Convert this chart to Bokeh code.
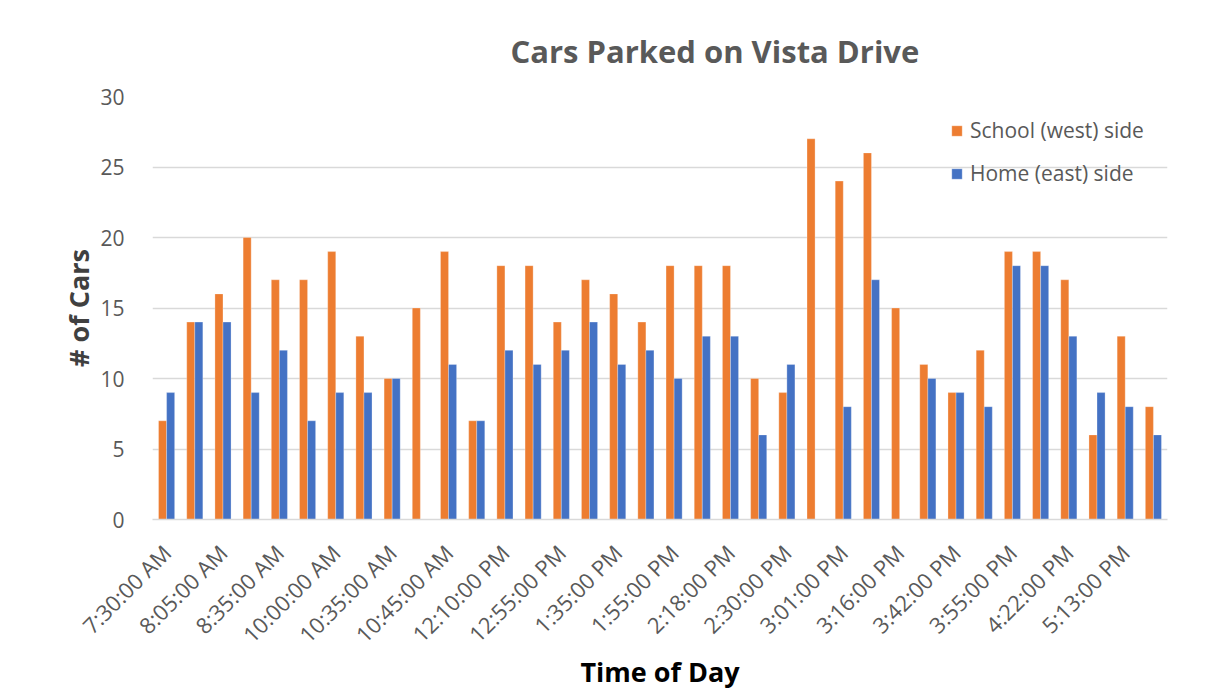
from bokeh.plotting import figure
from bokeh.models import Range1d, FixedTicker, Title, Legend, LegendItem
from bokeh.embed import file_html
from bokeh.resources import INLINE
import numpy as np

# ---- data ----
tick_labels = ["7:30:00 AM", "8:05:00 AM", "8:35:00 AM", "10:00:00 AM", "10:35:00 AM",
               "10:45:00 AM", "12:10:00 PM", "12:55:00 PM", "1:35:00 PM", "1:55:00 PM",
               "2:18:00 PM", "2:30:00 PM", "3:01:00 PM", "3:16:00 PM", "3:42:00 PM",
               "3:55:00 PM", "4:22:00 PM", "5:13:00 PM"]
school = [7, 14, 16, 20, 17, 17, 19, 13, 10, 15, 19, 7, 18, 18, 14, 17, 16, 14,
          18, 18, 18, 10, 9, 27, 24, 26, 15, 11, 9, 12, 19, 19, 17, 6, 13, 8]
home = [9, 14, 14, 9, 12, 7, 9, 9, 10, 0, 11, 7, 12, 11, 12, 14, 11, 12,
        10, 13, 13, 6, 11, 0, 8, 17, 0, 10, 9, 8, 18, 18, 13, 9, 8, 6]
series_names = ["School (west) side", "Home (east) side"]
title_text = "Cars Parked on Vista Drive"

ORANGE = "#ED7D31"
BLUE = "#4472C4"
GRID = "#D9D9D9"
TXT = "#595959"
FONT = "Open Sans"

n = len(school)
idx = np.arange(1, n + 1)
bw = 1 / 3.5

p = figure(width=1214, height=694, output_backend="svg", toolbar_location=None,
           x_range=Range1d(0.5, n + 0.5), y_range=Range1d(0, 30),
           min_border_left=152, min_border_right=47, min_border_top=96, min_border_bottom=175)
p.outline_line_color = None
p.background_fill_color = "white"
p.border_fill_color = "white"

r1 = p.vbar(x=idx - bw / 2, top=school, width=bw, fill_color=ORANGE,
            line_color="white", line_alpha=0.35, line_width=0.8)
r2 = p.vbar(x=idx + bw / 2, top=home, width=bw, fill_color=BLUE,
            line_color="white", line_alpha=0.35, line_width=0.8)

# title
t = Title(text=title_text, align="left", offset=358,
          text_font=FONT, text_font_size="31px", text_font_style="bold",
          text_color=TXT, standoff=50)
p.add_layout(t, "above")

# x axis
xa = p.xaxis[0]
xa.ticker = FixedTicker(ticks=list(range(1, n + 1, 2)))
xa.major_label_overrides = {i: lab for i, lab in zip(range(1, n + 1, 2), tick_labels)}
xa.major_label_orientation = np.pi / 4
xa.major_label_text_font = FONT
xa.major_label_text_font_size = "22px"
xa.major_label_text_color = TXT
xa.major_label_standoff = 23
xa.major_tick_line_color = None
xa.minor_tick_line_color = None
xa.axis_line_color = GRID
xa.axis_line_width = 1.5
xa.axis_label = "Time of Day"
xa.axis_label_text_font = FONT
xa.axis_label_text_font_size = "27px"
xa.axis_label_text_font_style = "bold"
xa.axis_label_text_color = "#000000"
xa.axis_label_standoff = -9

# y axis
ya = p.yaxis[0]
ya.ticker = FixedTicker(ticks=[0, 5, 10, 15, 20, 25, 30])
ya.major_label_text_font = FONT
ya.major_label_text_font_size = "21px"
ya.major_label_text_color = TXT
ya.major_label_standoff = 22
ya.major_tick_line_color = None
ya.minor_tick_line_color = None
ya.axis_line_color = None
ya.axis_label = "# of Cars"
ya.axis_label_text_font = FONT
ya.axis_label_text_font_size = "27px"
ya.axis_label_text_font_style = "bold"
ya.axis_label_text_color = "#404040"
ya.axis_label_standoff = 0

p.xgrid.grid_line_color = None
p.ygrid.grid_line_color = GRID
p.ygrid.grid_line_width = 1.5

legend = Legend(items=[LegendItem(label=series_names[0], renderers=[r1]),
                       LegendItem(label=series_names[1], renderers=[r2])],
                location=(798, 332), orientation="vertical",
                label_text_font=FONT, label_text_font_size="21px", label_text_color=TXT,
                glyph_width=13, glyph_height=13, label_standoff=7, spacing=15,
                padding=0, margin=0, border_line_color=None, background_fill_alpha=0)
p.add_layout(legend, "center")

p.styles = {"outline": "1px solid #D9D9D9", "outline-offset": "-2px"}

open("out.html", "w").write(file_html(p, INLINE))
